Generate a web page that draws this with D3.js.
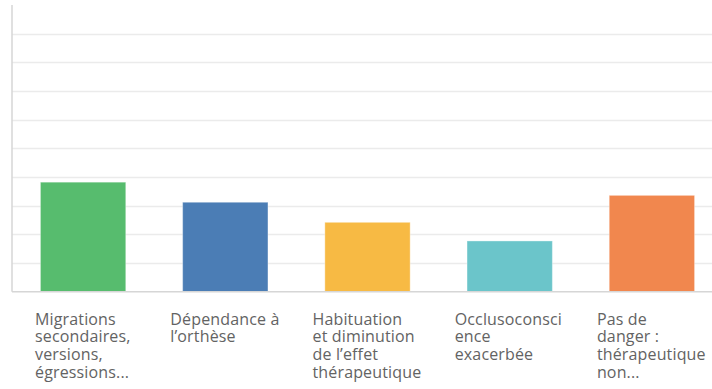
<!DOCTYPE html>
<html>
<head>
<meta charset="utf-8">
<script src="https://cdn.jsdelivr.net/npm/d3@7"></script>
<style>
  html, body { margin: 0; padding: 0; background: #ffffff; }
  svg { display: block; }
  text { font-family: "Open Sans", "Noto Sans", sans-serif; }
</style>
</head>
<body>
<svg id="chart" width="712" height="389"></svg>
<script>
// Response categories (already wrapped into display lines)
const categories = [
  "Migrations secondaires",
  "Dépendance à l’orthèse",
  "Habituation",
  "Occlusoconscience",
  "Pas de danger"
];
const categoryLines = [
  ["Migrations", "secondaires,", "versions,", "égressions..."],
  ["Dépendance à", "l’orthèse"],
  ["Habituation", "et diminution", "de l’effet", "thérapeutique"],
  ["Occlusoconsci", "ence", "exacerbée"],
  ["Pas de", "danger :", "thérapeutique", "non..."]
];
// Share of respondents (%)
const values = [38.2, 31.2, 24.2, 17.7, 33.6];
const barColors = ["#57bc6e", "#4b7db5", "#f7ba44", "#6bc5ca", "#f1874e"];
const yTicks = [0, 10, 20, 30, 40, 50, 60, 70, 80, 90, 100];

const svg = d3.select("#chart");
const plotLeft = 12, plotRight = 723, plotTop = 5, plotBottom = 291.7;

const x = d3.scaleBand()
  .domain(categories)
  .range([plotLeft, plotRight])
  .paddingInner(0.4)
  .paddingOuter(0.2);

const y = d3.scaleLinear()
  .domain([0, 100])
  .range([plotBottom, plotTop]);

// Horizontal gridlines
svg.append("g")
  .selectAll("line")
  .data(yTicks.filter(t => t > 0 && t < 100))
  .join("line")
  .attr("x1", plotLeft)
  .attr("x2", 712)
  .attr("y1", d => Math.round(y(d)) + 0.5)
  .attr("y2", d => Math.round(y(d)) + 0.5)
  .attr("stroke", "#ebebeb")
  .attr("stroke-width", 1.5);

// Bars
svg.append("g")
  .selectAll("rect")
  .data(values)
  .join("rect")
  .attr("x", (d, i) => x(categories[i]))
  .attr("y", d => y(d))
  .attr("width", x.bandwidth())
  .attr("height", d => plotBottom - y(d))
  .attr("fill", (d, i) => barColors[i])
  .attr("stroke", "rgba(255,255,255,0.35)")
  .attr("stroke-width", 1);

// Axis lines
svg.append("line")
  .attr("x1", plotLeft).attr("x2", plotLeft)
  .attr("y1", plotTop).attr("y2", plotBottom)
  .attr("stroke", "#d6d6d6").attr("stroke-width", 1.5);
svg.append("line")
  .attr("x1", plotLeft).attr("x2", 712)
  .attr("y1", plotBottom).attr("y2", plotBottom)
  .attr("stroke", "#d6d6d6").attr("stroke-width", 1.5);

// Category labels, left-aligned under each bar
const labels = svg.append("g")
  .selectAll("text")
  .data(categoryLines)
  .join("text")
  .attr("font-size", 16)
  .attr("letter-spacing", 0.15)
  .attr("fill", "#636363")
  .attr("transform", (d, i) => {
    const cx = x(categories[i]) + x.bandwidth() / 2;
    return `translate(${Math.max(cx - 55, 35)},324.5)`;
  });

labels.selectAll("tspan")
  .data(d => d)
  .join("tspan")
  .attr("x", 0)
  .attr("y", (d, i) => i * 17.8)
  .text(d => d);
</script>
</body>
</html>
